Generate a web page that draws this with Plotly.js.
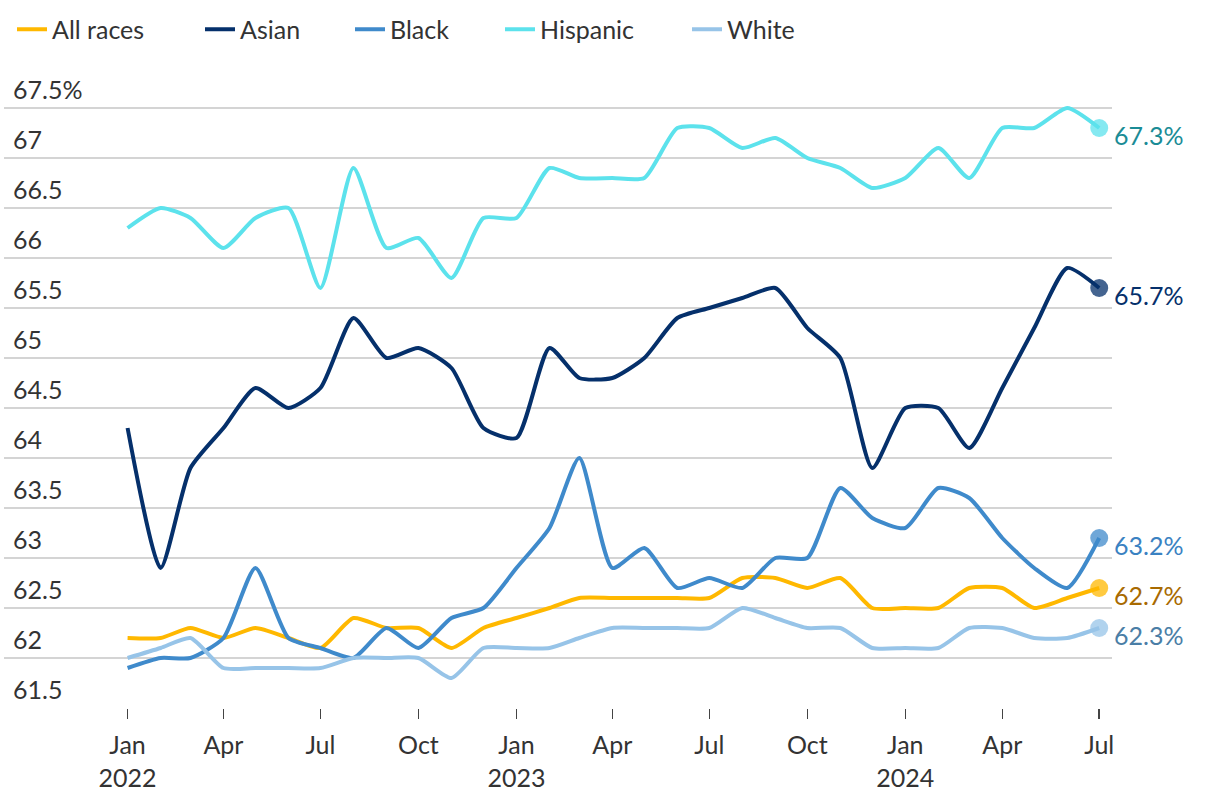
<!DOCTYPE html>
<html>
<head>
<meta charset="utf-8">
<script src="https://cdn.plot.ly/plotly-3.0.1.min.js"></script>
<style>
html,body{margin:0;padding:0;background:#fff;}
#chart{width:1220px;height:808px;}
</style>
</head>
<body>
<div id="chart"></div>
<script>
const months = ["2022-01-01","2022-02-01","2022-03-01","2022-04-01","2022-05-01","2022-06-01","2022-07-01","2022-08-01","2022-09-01","2022-10-01","2022-11-01","2022-12-01",
"2023-01-01","2023-02-01","2023-03-01","2023-04-01","2023-05-01","2023-06-01","2023-07-01","2023-08-01","2023-09-01","2023-10-01","2023-11-01","2023-12-01",
"2024-01-01","2024-02-01","2024-03-01","2024-04-01","2024-05-01","2024-06-01","2024-07-01"];

const allRaces = [62.2,62.2,62.3,62.2,62.3,62.2,62.1,62.4,62.3,62.3,62.1,62.3,62.4,62.5,62.6,62.6,62.6,62.6,62.6,62.8,62.8,62.7,62.8,62.5,62.5,62.5,62.7,62.7,62.5,62.6,62.7];
const asian = [64.3,62.9,63.9,64.3,64.7,64.5,64.7,65.4,65.0,65.1,64.9,64.3,64.2,65.1,64.8,64.8,65.0,65.4,65.5,65.6,65.7,65.3,65.0,63.9,64.5,64.5,64.1,64.7,65.3,65.9,65.7];
const black = [61.9,62.0,62.0,62.2,62.9,62.2,62.1,62.0,62.3,62.1,62.4,62.5,62.9,63.3,64.0,62.9,63.1,62.7,62.8,62.7,63.0,63.0,63.7,63.4,63.3,63.7,63.6,63.2,62.9,62.7,63.2];
const hispanic = [66.3,66.5,66.4,66.1,66.4,66.5,65.7,66.9,66.1,66.2,65.8,66.4,66.4,66.9,66.8,66.8,66.8,67.3,67.3,67.1,67.2,67.0,66.9,66.7,66.8,67.1,66.8,67.3,67.3,67.5,67.3];
const white = [62.0,62.1,62.2,61.9,61.9,61.9,61.9,62.0,62.0,62.0,61.8,62.1,62.1,62.1,62.2,62.3,62.3,62.3,62.3,62.5,62.4,62.3,62.3,62.1,62.1,62.1,62.3,62.3,62.2,62.2,62.3];

const seriesNames = ["All races","Asian","Black","Hispanic","White"];

const xTickVals = ["2022-01-01","2022-04-01","2022-07-01","2022-10-01","2023-01-01","2023-04-01","2023-07-01","2023-10-01","2024-01-01","2024-04-01","2024-07-01"];
const xTickText = ["Jan<br>2022","Apr","Jul","Oct","Jan<br>2023","Apr","Jul","Oct","Jan<br>2024","Apr","Jul"];
const yTickVals = [61.5,62,62.5,63,63.5,64,64.5,65,65.5,66,66.5,67,67.5];
const yTickText = ["61.5","62","62.5","63","63.5","64","64.5","65","65.5","66","66.5","67","67.5%"];

const seriesData = [allRaces, asian, black, hispanic, white];
const lineColors = ["#FFB800","#05306B","#3F8ACB","#5CE2EC","#97C4E8"];
const labelColors = ["#A86A00","#05306B","#3A82C2","#1A8C96","#4A7EA6"];
const legendIds = ["legend","legend2","legend3","legend4","legend5"];
const legendX = [12, 200, 350, 500, 687];
const font = "Lato, 'Open Sans', sans-serif";
const FS = 25;

const traces = [];
seriesData.forEach((ys, k) => {
  traces.push({
    x: months, y: ys, name: seriesNames[k], type: "scatter", mode: "lines",
    line: {color: lineColors[k], width: 4, shape: "spline", smoothing: 0.6},
    legend: legendIds[k],
    hoverinfo: "skip"
  });
});
seriesData.forEach((ys, k) => {
  const n = ys.length - 1;
  traces.push({
    x: [months[n]], y: [ys[n]], type: "scatter", mode: "markers", showlegend: false,
    marker: {color: lineColors[k], size: 18, opacity: 0.75},
    hoverinfo: "skip"
  });
});

const annotations = seriesData.map((ys, k) => {
  const n = ys.length - 1;
  return {
    x: months[n], y: ys[n], xref: "x", yref: "y",
    text: ys[n].toFixed(1) + "%", showarrow: false,
    xanchor: "left", yanchor: "middle", xshift: 13, yshift: -7,
    font: {family: font, size: FS, color: labelColors[k]}
  };
});

const layout = {
  width: 1220, height: 808,
  margin: {l: 4, r: 108, t: 58, b: 100},
  paper_bgcolor: "#fff", plot_bgcolor: "#fff",
  font: {family: font, size: FS, color: "#333"},
  showlegend: true,
  xaxis: {
    type: "date", range: ["2021-09-07", "2024-07-13"],
    tickvals: xTickVals, ticktext: xTickText,
    ticks: "outside", ticklen: 10, tickwidth: 1.5, tickcolor: "#444",
    ticklabelstandoff: 5,
    showgrid: false, zeroline: false, showline: false,
    tickfont: {family: font, size: FS, color: "#333"}
  },
  yaxis: {
    range: [61.5, 68.0], tickvals: yTickVals, ticktext: yTickText,
    ticklabelposition: "inside top", ticks: "", ticklabelstandoff: 6,
    showgrid: true, gridcolor: "#d4d4d4", gridwidth: 1.5,
    zeroline: false, showline: false,
    tickfont: {family: font, size: FS, color: "#333"}
  },
  annotations: annotations
};
legendIds.forEach((id, k) => {
  layout[id] = {
    orientation: "h", xref: "container", yref: "container",
    x: legendX[k] / 1220, y: 0.992, xanchor: "left", yanchor: "top",
    font: {family: font, size: FS, color: "#333"}, bgcolor: "rgba(0,0,0,0)"
  };
});

Plotly.newPlot("chart", traces, layout, {displayModeBar: false, staticPlot: true});
</script>
</body>
</html>
